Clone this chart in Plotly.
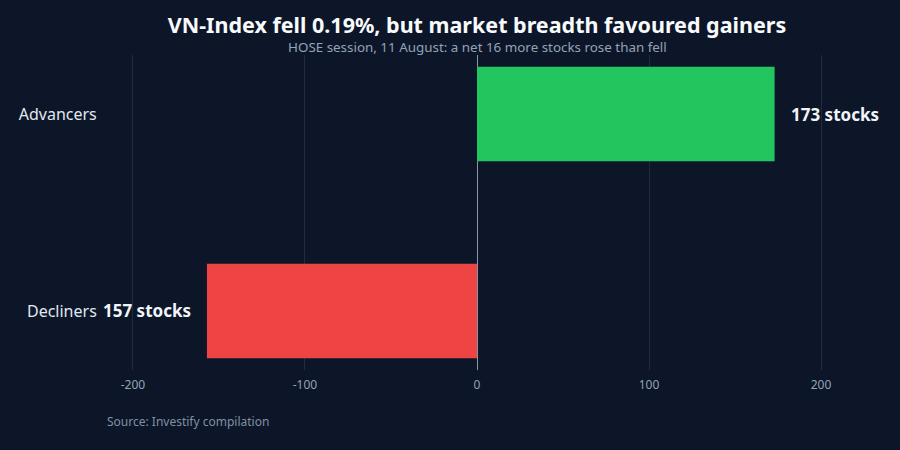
import plotly.graph_objects as go

### chart data
categories = ["Decliners", "Advancers"]
values = [-157, 173]
counts = [157, 173]
bar_colors = ["#ef4444", "#22c55e"]
label_text = [f"{c} stocks" for c in counts]
tick_vals = [-200, -100, 0, 100, 200]
tick_text = ["-200", "-100", "0", "100", "200"]

bg = "#0c1628"
lim = max(counts) * 1.25

fig = go.Figure()
fig.add_trace(go.Bar(
    x=values,
    y=categories,
    orientation="h",
    marker=dict(color=bar_colors, line=dict(width=0)),
    width=0.48,
    hoverinfo="skip",
))

### value labels next to each bar end
for cat, val, txt in zip(categories, values, label_text):
    fig.add_annotation(
        x=val, y=cat, text=f"<b>{txt}</b>", showarrow=False,
        xanchor="left" if val > 0 else "right",
        xshift=14 if val > 0 else -14,
        font=dict(family="Noto Sans", size=17, color="#f1f5f9"),
    )

### subtitle + source
fig.add_annotation(
    x=0.5, y=1, xref="paper", yref="paper", xanchor="center", yanchor="middle",
    yshift=8, showarrow=False,
    text="HOSE session, 11 August: a net 16 more stocks rose than fell",
    font=dict(family="Noto Sans", size=13.4, color="#94a3b8"),
)
fig.add_annotation(
    x=0, y=-0.13, xref="paper", yref="paper", xanchor="left", yanchor="top",
    text="Source: Investify compilation", showarrow=False,
    font=dict(family="Noto Sans", size=12, color="#8190a5"),
)

fig.update_layout(
    width=900, height=450,
    paper_bgcolor=bg, plot_bgcolor=bg,
    margin=dict(l=105, r=51, t=55, b=80),
    showlegend=False,
    font=dict(family="Noto Sans", color="#94a3b8"),
    title=dict(
        text="<b>VN-Index fell 0.19%, but market breadth favoured gainers</b>",
        x=0.5, xref="paper", xanchor="center", y=0.943, yref="container", yanchor="middle",
        font=dict(family="Noto Sans", size=21.5, color="#f8fafc"),
    ),
    xaxis=dict(
        range=[-lim, lim], tickvals=tick_vals, ticktext=tick_text,
        showgrid=True, gridcolor="#1f2b3e", gridwidth=1,
        zeroline=True, zerolinecolor="#8a96a8", zerolinewidth=1,
        tickfont=dict(size=12, color="#94a3b8"),
        ticks="outside", ticklen=4, tickcolor=bg,
    ),
    yaxis=dict(
        categoryorder="array", categoryarray=categories,
        range=[-0.3, 1.3], showgrid=False, zeroline=False,
        tickfont=dict(size=16, color="#e2e8f0"),
        ticks="outside", ticklen=4, tickcolor=bg,
    ),
)

fig.write_html("out.html", config={"displayModeBar": False},
               post_script="document.body.style.margin='0';")
